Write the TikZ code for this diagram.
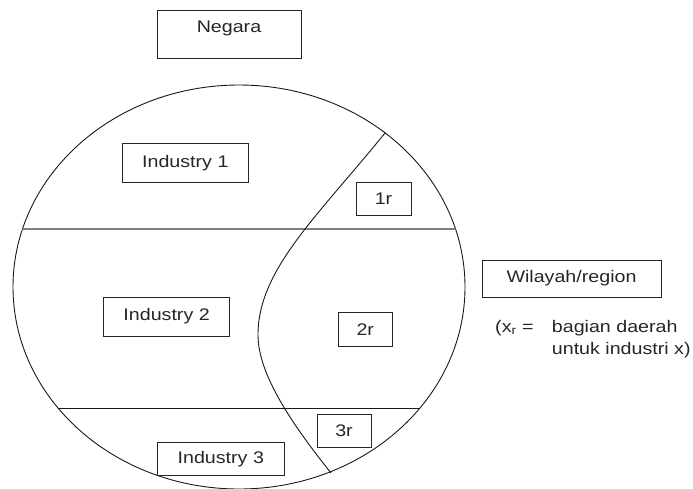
\documentclass[tikz,border=0pt]{standalone}
\usepackage{fontspec}
\setmainfont{Liberation Sans}[FakeStretch=1.17]
\usetikzlibrary{positioning}
\tikzset{
        every node/.style={font=\fontsize{16.8}{22}\selectfont, text=black!85},
        kotak/.style={draw=black!85, line width=0.9pt, inner sep=0pt}, % the labelled boxes
        batas/.style={line width=0.9pt, black!90}, % border of the region
        garis1/.style={line width=1.6pt, black!50},
        garis2/.style={line width=1pt, black!90}
        }

\begin{document}
\begin{tikzpicture}[x=1pt,y=-1pt]
        \useasboundingbox (0,0) rectangle (693,488);
        % wilayah dan garis pembagi
        \draw[batas] (239,287) ellipse [x radius=226pt, y radius=202pt];
        \begin{scope}
        \clip (239,287) ellipse [x radius=226pt, y radius=202pt];
        \draw[garis1] (0,229) -- (480,229);
        \draw[garis2] (0,408) -- (480,408);
        \end{scope}
        \draw[batas] (385,133) .. controls (316,218) and (258,270) .. (258,335)
                              .. controls (258,375) and (293.5,426) .. (331,473);
        % kotak-kotak
        \node[kotak, minimum width=144pt, text height=22.7pt, text depth=25.3pt, anchor=base](negara) at (229,32.7){Negara};
        \node[kotak, minimum width=126.5pt, minimum height=39pt](ind1) at (185.3,162.8){Industry 1};
        \node[kotak, minimum width=55pt, minimum height=33.4pt](r1) at (383.5,199){1r};
        \node[kotak, minimum width=126.4pt, minimum height=39pt](ind2) at (166.6,316.5){Industry 2};
        \node[kotak, minimum width=54.5pt, minimum height=33.3pt](r2) at (365.3,329.3){2r};
        \node[kotak, minimum width=54pt, minimum height=32.5pt](r3) at (344,430.8){3r};
        \node[kotak, minimum width=127.5pt, minimum height=32.3pt](ind3) at (220.8,458.8){Industry 3};
        \node[kotak, minimum width=179pt, minimum height=37pt](wilayah) at (571.5,278.5){Wilayah/region};
        % keterangan
        \node[anchor=base west, inner sep=0pt](xr) at (495,332){(x\textsubscript{r} =};
        \node[anchor=base west, inner sep=0pt, align=left](ket) at (551.7,354){bagian daerah\\untuk industri x)};
      \end{tikzpicture}
\end{document}
